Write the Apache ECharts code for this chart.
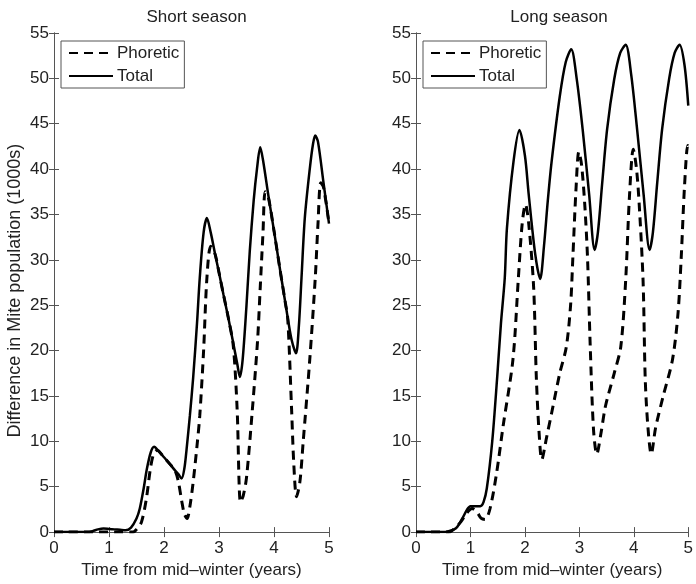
<!DOCTYPE html>
<html>
<head>
<meta charset="utf-8">
<script src="https://cdn.jsdelivr.net/npm/echarts@6/dist/echarts.min.js"></script>
<style>
  html, body { margin: 0; padding: 0; background: #fff; }
  #chart { width: 696px; height: 584px; }
</style>
</head>
<body>
<div id="chart"></div>
<script>
// x axis ticks (years) and y axis ticks (1000s)
var xTicks = [0, 1, 2, 3, 4, 5];
var yTicks = [0, 5, 10, 15, 20, 25, 30, 35, 40, 45, 50, 55];
var panelTitles = ['Short season', 'Long season'];

// Short season - total
var shortTotalT = [0, 0.6, 0.7, 0.8, 0.9, 1.0, 1.1, 1.2, 1.3, 1.4, 1.5, 1.56, 1.63, 1.69, 1.76, 1.82, 1.9, 2.0, 2.1, 2.2, 2.26, 2.32, 2.37, 2.41, 2.47, 2.53, 2.6, 2.65, 2.72, 2.78, 2.85, 2.93, 3.0, 3.08, 3.17, 3.26, 3.33, 3.38, 3.43, 3.5, 3.56, 3.63, 3.69, 3.75, 3.8, 3.9, 4.0, 4.1, 4.2, 4.25, 4.32, 4.4, 4.45, 4.5, 4.56, 4.65, 4.71, 4.75, 4.8, 4.9, 5.0];
var shortTotal  = [0, 0, 0.1, 0.3, 0.4, 0.35, 0.3, 0.25, 0.2, 0.5, 1.5, 2.6, 4.8, 7.0, 8.8, 9.4, 8.95, 8.25, 7.55, 6.8, 6.4, 5.9, 7.0, 9.1, 12.8, 17.0, 23.0, 28.0, 33.0, 34.6, 33.0, 30.6, 28.6, 26.2, 23.6, 20.8, 18.6, 17.1, 19.0, 25.0, 31.0, 36.5, 40.0, 42.4, 41.0, 37.0, 33.2, 29.3, 25.5, 23.6, 21.2, 19.7, 22.5, 28.0, 34.6, 40.0, 42.8, 43.7, 43.0, 38.5, 34.0];

// Short season - phoretic
var shortPhorT = [0, 1.44, 1.5, 1.59, 1.68, 1.75, 1.81, 1.87, 1.9, 2.0, 2.1, 2.2, 2.26, 2.32, 2.37, 2.42, 2.47, 2.53, 2.6, 2.65, 2.72, 2.78, 2.85, 2.93, 3.0, 3.08, 3.17, 3.26, 3.33, 3.39, 3.44, 3.5, 3.6, 3.7, 3.75, 3.8, 3.84, 3.9, 4.0, 4.1, 4.2, 4.25, 4.32, 4.36, 4.41, 4.47, 4.53, 4.65, 4.75, 4.8, 4.85, 4.9, 5.0];
var shortPhor  = [0, 0, 0.3, 1.1, 3.7, 6.9, 8.6, 9.0, 8.95, 8.25, 7.55, 6.8, 5.6, 3.5, 2.0, 1.5, 2.8, 5.5, 9.5, 12.8, 20.0, 28.0, 31.5, 30.6, 28.6, 26.2, 23.6, 20.5, 13.5, 3.3, 4.0, 6.0, 13.0, 21.0, 27.0, 33.0, 37.5, 36.8, 33.2, 29.3, 25.5, 23.5, 13.5, 7.5, 3.9, 5.5, 9.9, 19.0, 28.0, 34.0, 38.5, 38.0, 34.0];

// Long season - total
var longTotalT = [0, 0.5, 0.6, 0.7, 0.76, 0.85, 0.94, 1.0, 1.1, 1.18, 1.24, 1.3, 1.4, 1.49, 1.56, 1.63, 1.67, 1.79, 1.9, 2.0, 2.07, 2.19, 2.28, 2.35, 2.42, 2.49, 2.64, 2.75, 2.85, 2.95, 3.06, 3.18, 3.28, 3.34, 3.42, 3.51, 3.64, 3.75, 3.85, 3.95, 4.06, 4.18, 4.29, 4.35, 4.43, 4.52, 4.65, 4.75, 4.84, 4.93, 5.0];
var longTotal  = [0, 0, 0.1, 0.3, 0.6, 1.5, 2.5, 2.85, 2.85, 2.85, 3.3, 4.8, 10.0, 17.0, 23.0, 28.0, 33.5, 40.8, 44.3, 41.5, 37.2, 30.6, 27.9, 31.5, 36.5, 40.8, 48.0, 51.8, 53.2, 50.0, 44.4, 37.2, 31.1, 33.0, 38.5, 44.4, 49.9, 52.8, 53.7, 50.5, 44.4, 37.2, 31.1, 33.0, 38.5, 44.4, 50.0, 52.8, 53.7, 51.5, 47.0];

// Long season - phoretic
var longPhorT = [0, 0.6, 0.65, 0.82, 0.92, 1.03, 1.12, 1.2, 1.27, 1.36, 1.48, 1.6, 1.78, 1.88, 1.95, 2.01, 2.07, 2.16, 2.21, 2.26, 2.31, 2.4, 2.49, 2.64, 2.76, 2.84, 2.88, 2.94, 2.99, 3.04, 3.1, 3.15, 3.2, 3.26, 3.32, 3.4, 3.48, 3.64, 3.76, 3.85, 3.92, 3.99, 4.05, 4.1, 4.17, 4.21, 4.26, 4.32, 4.4, 4.54, 4.71, 4.81, 4.87, 4.93, 4.99, 5.0];
var longPhor  = [0, 0, 0.1, 1.1, 2.0, 2.6, 2.2, 1.5, 1.4, 2.6, 6.5, 11.7, 19.0, 28.0, 34.0, 36.1, 34.0, 27.0, 17.0, 11.0, 8.0, 10.5, 13.1, 17.5, 20.4, 25.1, 30.2, 38.0, 41.9, 40.5, 36.0, 30.2, 20.4, 11.3, 8.6, 11.0, 13.9, 17.5, 20.4, 27.7, 37.0, 42.2, 40.0, 36.0, 27.7, 16.8, 11.5, 8.6, 11.5, 15.0, 19.0, 24.0, 30.2, 38.0, 42.6, 42.5];

function zip(t, v) {
    return t.map(function (x, i) { return [x, v[i]]; });
}

var FONT = 'Liberation Sans';
var AXIS_COLOR = '#555';
var TEXT_COLOR = '#222';
var grids = [
    { left: 54, right: 367, top: 33, bottom: 47 },
    { left: 416, right: 4, top: 33, bottom: 47 }
];

var xAxes = [], yAxes = [], series = [], titles = [], legends = [];

grids.forEach(function (g, i) {
    var tick = { show: true, inside: true, length: 5, lineStyle: { color: AXIS_COLOR, width: 1 } };
    // bottom / left axes with labels
    xAxes.push({
        type: 'value', gridIndex: i, min: xTicks[0], max: xTicks[xTicks.length - 1], interval: 1,
        axisLine: { lineStyle: { color: AXIS_COLOR, width: 1 } },
        axisTick: tick,
        axisLabel: { color: TEXT_COLOR, fontSize: 17, fontFamily: FONT, margin: 8 },
        splitLine: { show: false },
        name: 'Time from mid\u2013winter (years)', nameLocation: 'middle', nameGap: 28,
        nameTextStyle: { color: TEXT_COLOR, fontSize: 17, fontFamily: FONT }
    });
    // top mirror axis (box + ticks)
    xAxes.push({
        type: 'value', gridIndex: i, position: 'top', min: xTicks[0], max: xTicks[xTicks.length - 1], interval: 1,
        axisLine: { show: true, lineStyle: { color: AXIS_COLOR, width: 1 } },
        axisTick: tick, axisLabel: { show: false }, splitLine: { show: false }
    });
    yAxes.push({
        type: 'value', gridIndex: i, min: yTicks[0], max: yTicks[yTicks.length - 1], interval: 5,
        axisLine: { show: true, lineStyle: { color: AXIS_COLOR, width: 1 } },
        axisTick: tick,
        axisLabel: { color: TEXT_COLOR, fontSize: 17, fontFamily: FONT, margin: 5 },
        splitLine: { show: false },
        name: i === 0 ? 'Difference in Mite population (1000s)' : '',
        nameLocation: 'middle', nameGap: 30,
        nameTextStyle: { color: TEXT_COLOR, fontSize: 18, fontFamily: FONT, padding: [0, 16, 0, 0] }
    });
    yAxes.push({
        type: 'value', gridIndex: i, position: 'right', min: yTicks[0], max: yTicks[yTicks.length - 1], interval: 5,
        axisLine: { show: true, lineStyle: { color: AXIS_COLOR, width: 1 } },
        axisTick: tick, axisLabel: { show: false }, splitLine: { show: false }
    });

    var plotLeft = g.left, plotRight = 696 - g.right;
    titles.push({
        text: panelTitles[i], left: (plotLeft + plotRight) / 2, top: 4, textAlign: 'center',
        textStyle: { color: TEXT_COLOR, fontSize: 17, fontWeight: 'normal', fontFamily: FONT }
    });
    legends.push({
        left: plotLeft + 7, top: 41, orient: 'vertical',
        data: ['Phoretic', 'Total'],
        itemWidth: 44, itemHeight: 17, itemGap: 6,
        padding: [3.5, 5, 3.5, 7],
        borderColor: AXIS_COLOR, borderWidth: 1, backgroundColor: '#fff',
        itemStyle: { opacity: 0 },
        textStyle: { color: TEXT_COLOR, fontSize: 17, fontFamily: FONT, padding: [0, 0, 0, -1] },
        selectedMode: false
    });
});

var sets = [
    [zip(shortPhorT, shortPhor), zip(shortTotalT, shortTotal)],
    [zip(longPhorT, longPhor), zip(longTotalT, longTotal)]
];

sets.forEach(function (pair, i) {
    series.push({
        name: 'Phoretic', type: 'line', xAxisIndex: i * 2, yAxisIndex: i * 2,
        data: pair[0], showSymbol: false, symbol: 'none', smooth: 0.3, clip: true,
        lineStyle: { color: '#000', width: 3, type: [9, 6] }, itemStyle: { color: '#000' }, z: 2
    });
    series.push({
        name: 'Total', type: 'line', xAxisIndex: i * 2, yAxisIndex: i * 2,
        data: pair[1], showSymbol: false, symbol: 'none', smooth: 0.3, clip: true,
        lineStyle: { color: '#000', width: 2.5 }, itemStyle: { color: '#000' }, z: 3
    });
});

var chart = echarts.init(document.getElementById('chart'));
chart.setOption({
    animation: false,
    backgroundColor: '#fff',
    title: titles,
    legend: legends,
    grid: grids,
    xAxis: xAxes,
    yAxis: yAxes,
    series: series
});
</script>
</body>
</html>
